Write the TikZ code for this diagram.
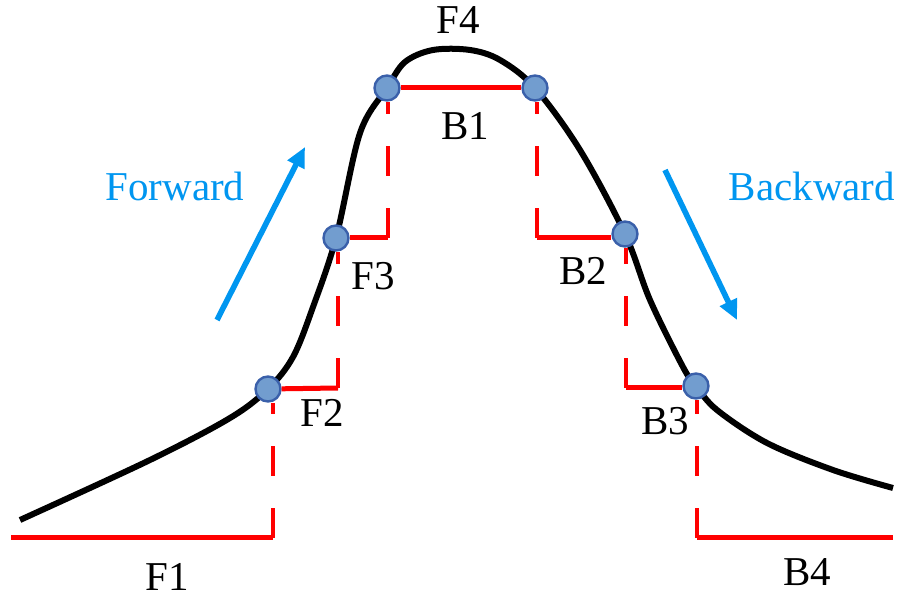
\documentclass[tikz,border=0pt]{standalone}
\usepackage{fontspec}
\setmainfont{Liberation Serif}
\usetikzlibrary{arrows.meta, positioning}
\definecolor{arrowblue}{RGB}{0,150,240}
\definecolor{dotfill}{RGB}{114,157,207}
\definecolor{dotdraw}{RGB}{58,96,170}

\begin{document}
\begin{tikzpicture}[
    x=0.5pt, y=-0.5pt,
    lbl/.style={font=\fontsize{20.5}{24}\selectfont, inner sep=0pt},
    dirlbl/.style={lbl, text=arrowblue},
    knot/.style={circle, draw=dotdraw, fill=dotfill, line width=1.2pt, minimum size=12.5pt, inner sep=0pt},
    level/.style={red, line width=2.5pt},
    drop/.style={red, line width=1.6pt, dash pattern=on 15pt off 16pt},
    dir/.style={arrowblue, line width=2.8pt, -{Triangle[length=10pt, width=9pt]}}
]
\useasboundingbox (0,0) rectangle (898,597);

% the curve
\draw[line width=3pt] plot[smooth, tension=0.55] coordinates {
    (20,520) (150,460) (230,418) (268,389) (293,357) (313,307) (336,238)
    (360,133) (387,88) (405,62) (433,50) (470,50) (500,60) (535,88)
    (580,150) (625,234) (650,300) (683,367) (696,386) (717,410) (767,443)
    (833,470) (893,488)};

% points on the curve
\node[knot] (f2) at (268,389) {};
\node[knot] (f3) at (336,238) {};
\node[knot] (f4) at (387,88) {};
\node[knot] (b1) at (535,88) {};
\node[knot] (b2) at (625,234) {};
\node[knot] (b3) at (696,386) {};

% step corners
\coordinate (s0) at (11,538);
\coordinate (s1) at (273,538);
\coordinate (s2) at (338,388);
\coordinate (s3) at (388,238);
\coordinate (s4) at (537,238);
\coordinate (s5) at (626,388);
\coordinate (s6) at (697,538);
\coordinate (s7) at (893,538);

\draw[level] (s0) -- (s1);
\draw[drop] (s1) -- (s1 |- f2.south);
\draw[level] (f2) -- (s2);
\draw[drop] (s2) -- (s2 |- f3.south);
\draw[level] (f3) -- (s3);
\draw[drop] (s3) -- (s3 |- f4.south);
\draw[level] (f4) -- (b1);
\draw[drop] (s4) -- (s4 |- b1.south);
\draw[level] (s4) -- (s4 -| b2.west);
\draw[drop] (s5) -- (s5 |- b2.south);
\draw[level] (s5) -- (s5 -| b3.west);
\draw[drop] (s6) -- (s6 |- b3.south);
\draw[level] (s6) -- (s7);

% Labels
\node[lbl] (tf1) at (167,577) {F1};
\node[lbl] (tf2) at (322,413) {F2};
\node[lbl] (tf3) at (373,276) {F3};
\node[lbl] (tf4) at (458,20) {F4};
\node[lbl] (tb1) at (465,126) {B1};
\node[lbl] (tb2) at (583,271) {B2};
\node[lbl] (tb3) at (665,421) {B3};
\node[lbl] (tb4) at (807,572) {B4};

% Directions
\node[dirlbl] (tfwd) at (175,186) {Forward};
\node[dirlbl] (tbwd) at (812,186) {Backward};
\coordinate (fwdtail) at (217,320);
\coordinate (fwdtip) at (305,147);
\coordinate (bwdtail) at (665,170);
\coordinate (bwdtip) at (737,320);
\draw[dir] (fwdtail) -- (fwdtip);
\draw[dir] (bwdtail) -- (bwdtip);

\end{tikzpicture}
\end{document}
